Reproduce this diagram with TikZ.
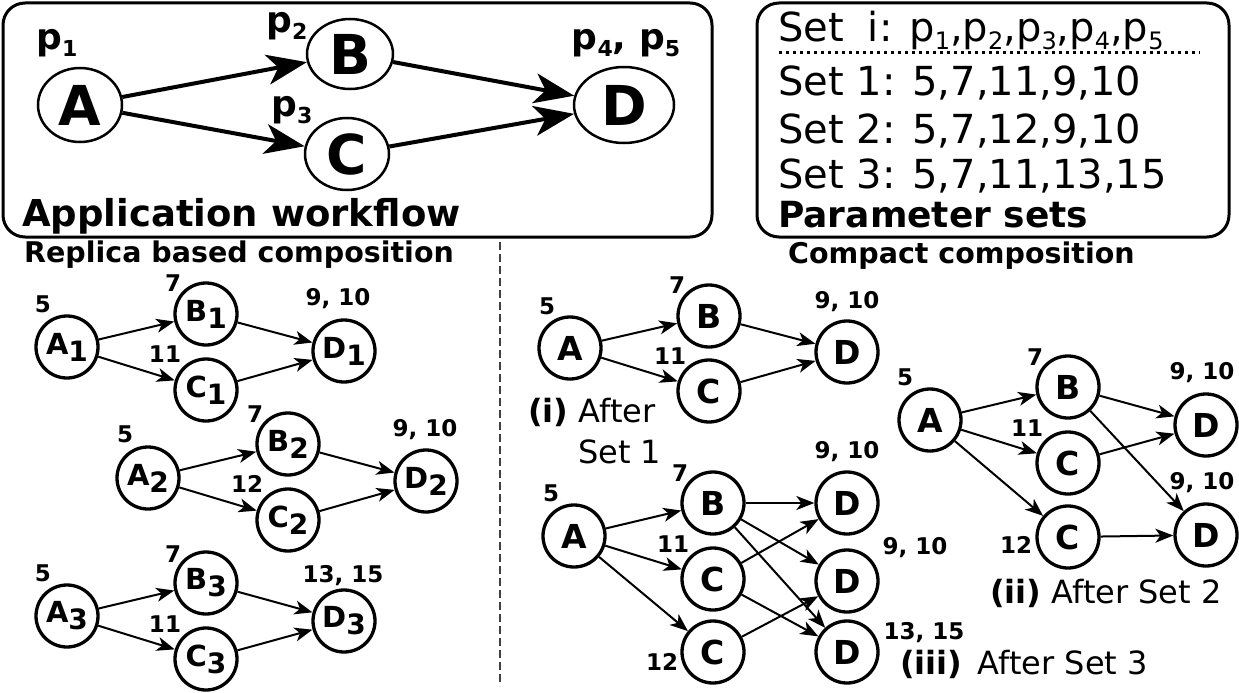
\documentclass[tikz,border=0pt]{standalone}
\usepackage{fontspec}
\setmainfont{DejaVu Sans}
\usetikzlibrary{arrows.meta,shapes.geometric}
\newcommand\fs[1]{\fontsize{#1}{#1}\selectfont}
\newcommand\subR[1]{\raisebox{-8pt}{\fs{24}#1}}
\newcommand\subP[1]{\raisebox{-7pt}{\fs{22}#1}}
\newcommand\subN[1]{\raisebox{-7pt}{\fs{28}#1}}
\begin{document}
\begin{tikzpicture}[x=1pt,y=-1pt,
  box/.style={draw, line width=3pt, rounded corners=22pt},
  big/.style={ellipse, draw, line width=2.5pt, inner sep=0pt, font=\fs{55}\bfseries},
  nd/.style={circle, draw, line width=3.3pt, minimum size=62pt, inner sep=0pt, font=\fs{33}\bfseries},
  ndr/.style={nd, font=\fs{29}\bfseries},
  lbl/.style={font=\fs{23}\bfseries, inner sep=0pt},
  plbl/.style={font=\fs{36}\bfseries, inner sep=0pt},
  captxt/.style={font=\fs{32}, inner sep=0pt},
  bigarrow/.style={-{Stealth[length=40pt,width=30pt,inset=11pt]}, line width=4pt},
  arr/.style={-{Stealth[length=18pt,width=14pt,inset=5pt]}, line width=2pt},
]
\useasboundingbox (0,0) rectangle (1239,693);

% ---------- Application workflow box ----------
\draw[box] (3,3) rectangle (712,237);
\node[big, minimum width=84pt, minimum height=74pt] (tA) at (80,105) {A};
\node[big, minimum width=86pt, minimum height=70pt] (tB) at (350,54) {B};
\node[big, minimum width=84pt, minimum height=72pt] (tC) at (347,154) {C};
\node[big, minimum width=100pt, minimum height=76pt] (tD) at (624,105) {D};
\node[plbl] (tp1) at (57,43) {p\subP{1}};
\node[plbl] (tp2) at (287,26) {p\subP{2}};
\node[plbl] (tp3) at (292,110) {p\subP{3}};
\node[plbl] (tp45) at (626,43) {p\subP{4}, p\subP{5}};
\draw[bigarrow] (tA) -- (tB);
\draw[bigarrow] (tA) -- (tC);
\draw[bigarrow] (tB) -- (tD);
\draw[bigarrow] (tC) -- (tD);
\node[anchor=base west, inner sep=0pt, font=\fs{37}\bfseries] (appw) at (22,226) {Application workflow};

% ---------- Parameter sets box ----------
\draw[box] (757,3) rectangle (1229,237);
\node[anchor=base west, inner sep=0pt, font=\fs{40}] (seti) at (778,42) {Set\hspace{24pt}i: p\subR{1},p\subR{2},p\subR{3},p\subR{4},p\subR{5}};
\coordinate (dl) at (779,53);
\coordinate (dr) at (1200,53);
\draw[line width=3pt, dash pattern=on 3pt off 4pt] (dl) -- (dr);
\node[anchor=base west, inner sep=0pt, font=\fs{40}] (set1) at (778,95) {Set 1: 5,7,11,9,10};
\node[anchor=base west, inner sep=0pt, font=\fs{40}] (set2) at (778,143) {Set 2: 5,7,12,9,10};
\node[anchor=base west, inner sep=0pt, font=\fs{40}] (set3) at (778,188) {Set 3: 5,7,11,13,15};
\node[anchor=base west, inner sep=0pt, font=\fs{36}\bfseries] (psets) at (778,227) {Parameter sets};

% ---------- section titles and divider ----------
\node[anchor=base west, inner sep=0pt, font=\fs{28.5}\bfseries] (rep) at (24,262) {Replica based composition};
\node[anchor=base west, inner sep=0pt, font=\fs{28.5}\bfseries] (cmp) at (788,263) {Compact composition};
\coordinate (dvt) at (500,242);
\coordinate (dvb) at (500,686);
\draw[black!75, line width=1.5pt, dash pattern=on 8pt off 4pt] (dvt) -- (dvb);

% ---------- Replica based composition ----------
\node[ndr] (A1) at (67,347) {A\subN{1}};
\node[ndr] (B1) at (206,314) {B\subN{1}};
\node[ndr] (C1) at (206,390) {C\subN{1}};
\node[ndr] (D1) at (344,351) {D\subN{1}};
\node[lbl] (lA1) at (43,304) {5};
\node[lbl] (lB1) at (173,283) {7};
\node[lbl] (lC1) at (165,354) {11};
\node[lbl] (lD1) at (338,299) {9, 10};
\draw[arr] (A1) -- (B1); \draw[arr] (A1) -- (C1);
\draw[arr] (B1) -- (D1); \draw[arr] (C1) -- (D1);

\node[ndr] (A2) at (148,478) {A\subN{2}};
\node[ndr] (B2) at (288,444) {B\subN{2}};
\node[ndr] (C2) at (288,520) {C\subN{2}};
\node[ndr] (D2) at (426,481) {D\subN{2}};
\node[lbl] (lA2) at (125,434) {5};
\node[lbl] (lB2) at (255,414) {7};
\node[lbl] (lC2) at (247,484) {12};
\node[lbl] (lD2) at (425,430) {9, 10};
\draw[arr] (A2) -- (B2); \draw[arr] (A2) -- (C2);
\draw[arr] (B2) -- (D2); \draw[arr] (C2) -- (D2);

\node[ndr] (A3) at (67,616) {A\subN{3}};
\node[ndr] (B3) at (206,583) {B\subN{3}};
\node[ndr] (C3) at (206,659) {C\subN{3}};
\node[ndr] (D3) at (344,621) {D\subN{3}};
\node[lbl] (lA3) at (43,573) {5};
\node[lbl] (lB3) at (173,554) {7};
\node[lbl] (lC3) at (165,624) {11};
\node[lbl] (lD3) at (343,576) {13, 15};
\draw[arr] (A3) -- (B3); \draw[arr] (A3) -- (C3);
\draw[arr] (B3) -- (D3); \draw[arr] (C3) -- (D3);

% ---------- Compact (i) ----------
\node[nd] (Ai) at (570,348) {A};
\node[nd] (Bi) at (709,316) {B};
\node[nd] (Ci) at (709,391) {C};
\node[nd] (Di) at (847,352) {D};
\node[lbl] (lAi) at (547,306) {5};
\node[lbl] (lBi) at (677,285) {7};
\node[lbl] (lCi) at (670,356) {11};
\node[lbl] (lDi) at (847,302) {9, 10};
\draw[arr] (Ai) -- (Bi); \draw[arr] (Ai) -- (Ci);
\draw[arr] (Bi) -- (Di); \draw[arr] (Ci) -- (Di);
\node[captxt, anchor=west] (capi) at (528,412) {\textbf{(i)} After};
\node[captxt, anchor=west] (capi2) at (578,452) {Set 1};

% ---------- Compact (iii) ----------
\node[nd] (Aiii) at (574,536) {A};
\node[nd] (Biii) at (713,503) {B};
\node[nd] (Ciii) at (713,579) {C};
\node[nd] (Cxiii) at (713,652) {C};
\node[nd] (Diii) at (847,503) {D};
\node[nd] (Dxiii) at (847,581) {D};
\node[nd] (Dyiii) at (847,652) {D};
\node[lbl] (lAiii) at (551,493) {5};
\node[lbl] (lBiii) at (680,473) {7};
\node[lbl] (lCiii) at (673,544) {11};
\node[lbl] (lCxiii) at (662,662) {12};
\node[lbl] (lDiii) at (847,452) {9, 10};
\node[lbl] (lDxiii) at (915,548) {9, 10};
\node[lbl] (lDyiii) at (924,633) {13, 15};
\draw[arr] (Aiii) -- (Biii); \draw[arr] (Aiii) -- (Ciii); \draw[arr] (Aiii) -- (Cxiii);
\draw[arr] (Biii) -- (Diii); \draw[arr] (Biii) -- (Dxiii); \draw[arr] (Biii) -- (Dyiii);
\draw[arr] (Ciii) -- (Diii); \draw[arr] (Ciii) -- (Dyiii);
\draw[arr] (Cxiii) -- (Dxiii);
\node[captxt] (capiii) at (1024,664) {\textbf{(iii)}\, After Set 3};

% ---------- Compact (ii) ----------
\node[nd] (Aii) at (930,420) {A};
\node[nd] (Bii) at (1068,387) {B};
\node[nd] (Cii) at (1068,463) {C};
\node[nd] (Cxii) at (1068,537) {C};
\node[nd] (Dii) at (1206,425) {D};
\node[nd] (Dxii) at (1206,535) {D};
\node[lbl] (lAii) at (905,377) {5};
\node[lbl] (lBii) at (1035,357) {7};
\node[lbl] (lCii) at (1027,428) {11};
\node[lbl] (lCxii) at (1016,545) {12};
\node[lbl] (lDii) at (1202,373) {9, 10};
\node[lbl] (lDxii) at (1202,483) {9, 10};
\draw[arr] (Aii) -- (Bii); \draw[arr] (Aii) -- (Cii); \draw[arr] (Aii) -- (Cxii);
\draw[arr] (Bii) -- (Dii); \draw[arr] (Bii) -- (Dxii);
\draw[arr] (Cii) -- (Dii); \draw[arr] (Cxii) -- (Dxii);
\node[captxt] (capii) at (1106,593) {\textbf{(ii)} After Set 2};
\end{tikzpicture}
\end{document}
